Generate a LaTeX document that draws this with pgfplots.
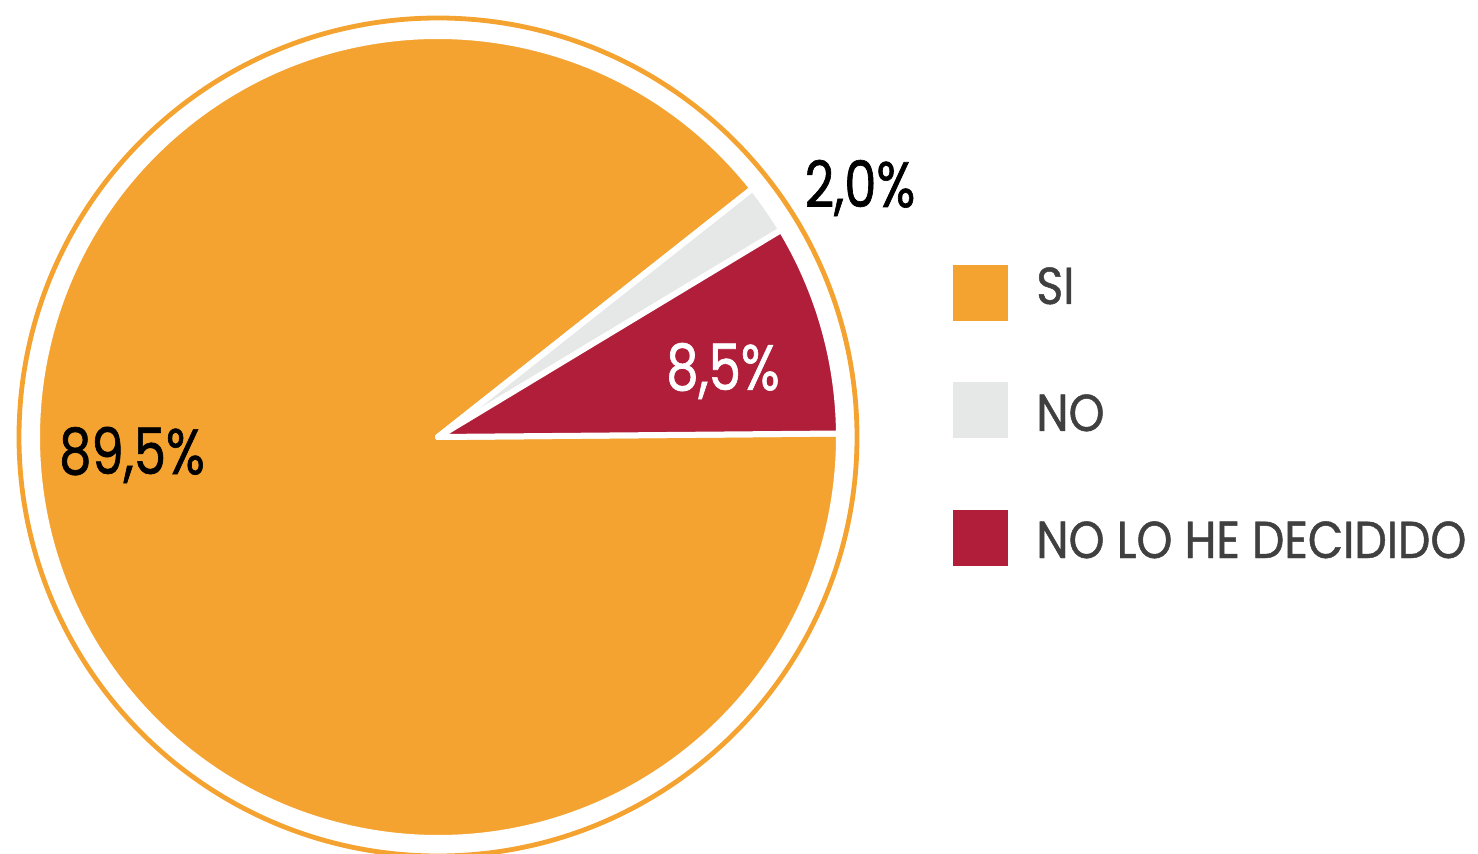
\documentclass[border=0pt]{standalone}
\usepackage{pgfplots}
\pgfplotsset{compat=1.18}
\usepackage{fontspec}
\setmainfont{Poppins}
\newfontfamily\pctfont[FakeStretch=0.8, FakeBold=1.0]{Poppins}
\newfontfamily\legfont[FakeStretch=0.88, FakeBold=0.9]{Poppins}
\definecolor{siorange}{HTML}{F4A331}
\definecolor{nogray}{HTML}{E6E7E7}
\definecolor{ndred}{HTML}{B01E3A}
\definecolor{legtext}{HTML}{404040}

\begin{document}
\begin{tikzpicture}
% data (percent)
\def\valSI{89.5}
\def\valNO{2.0}
\def\valND{8.5}
\pgfmathsetmacro{\aStart}{0.5}
\pgfmathsetmacro{\aND}{\aStart+3.6*\valND}
\pgfmathsetmacro{\aNO}{\aND+3.6*\valNO}
\pgfmathsetmacro{\aSI}{\aNO+3.6*\valSI}
\begin{axis}[
  x=0.5pt, y=0.5pt,
  xmin=-438, xmax=1040, ymin=-416, ymax=437,
  hide axis, clip=false, scale only axis,
]
% outer ring
\draw[siorange, line width=2.4pt] (axis cs:0,0) circle[radius=209.5pt];
% slices
\filldraw[fill=siorange, draw=white, line width=3pt, line join=round]
  (axis cs:0,0) -- ++(\aNO:200.5pt) arc[start angle=\aNO, end angle=\aSI, radius=200.5pt] -- cycle;
\filldraw[fill=nogray, draw=white, line width=3pt, line join=round]
  (axis cs:0,0) -- ++(\aND:200.5pt) arc[start angle=\aND, end angle=\aNO, radius=200.5pt] -- cycle;
\filldraw[fill=ndred, draw=white, line width=3pt, line join=round]
  (axis cs:0,0) -- ++(\aStart:200.5pt) arc[start angle=\aStart, end angle=\aND, radius=200.5pt] -- cycle;
% slice labels
\node[text=black, font=\pctfont\fontsize{32}{38}\selectfont] at (axis cs:-306,-18) {89,5\%};
\node[text=black, font=\pctfont\fontsize{32}{38}\selectfont] at (axis cs:422,249) {2,0\%};
\node[text=white, font=\pctfont\fontsize{32}{38}\selectfont] at (axis cs:285,66) {8,5\%};
% legend
\fill[siorange] (axis cs:515,116) rectangle (axis cs:570,172);
\fill[nogray] (axis cs:515,-1) rectangle (axis cs:570,55);
\fill[ndred] (axis cs:515,-129) rectangle (axis cs:570,-73);
\node[anchor=base west, inner sep=0pt, text=legtext, font=\legfont\fontsize{26}{30}\selectfont] at (axis cs:598,133) {SI};
\node[anchor=base west, inner sep=0pt, text=legtext, font=\legfont\fontsize{26}{30}\selectfont] at (axis cs:598,6) {NO};
\node[anchor=base west, inner sep=0pt, text=legtext, font=\legfont\fontsize{26}{30}\selectfont] at (axis cs:598,-121) {NO LO HE DECIDIDO};
\end{axis}
\pgfresetboundingbox
\path (current axis.south west) rectangle (current axis.north east);
\end{tikzpicture}
\end{document}
